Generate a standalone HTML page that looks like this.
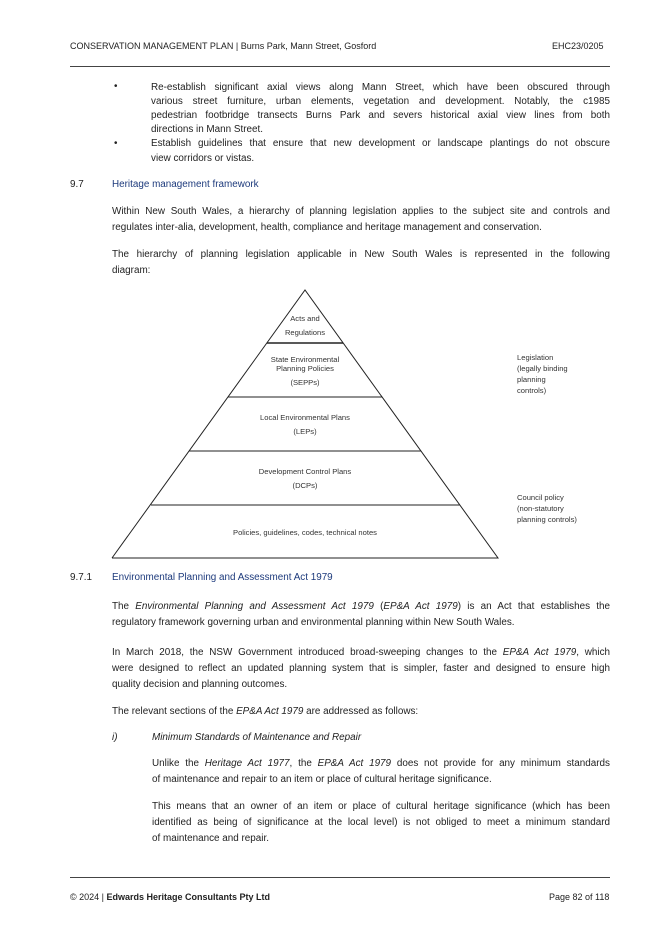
<!DOCTYPE html>
<html><head><meta charset="utf-8"><style>
body{margin:0;background:#fff;}
#p{position:relative;width:670px;height:947px;overflow:hidden;font-family:"Liberation Sans",sans-serif;color:#222;font-size:9.9px;}
.t{position:absolute;white-space:nowrap;line-height:12px;}
.j{position:absolute;line-height:12px;text-align:justify;text-align-last:justify;height:12px;overflow:hidden;}
.h{color:#1d3a7c;}
.hr{position:absolute;height:1px;background:#444;}
</style></head><body><div id="p">
<div class="t" style="left:70px;top:40px;font-size:9px">CONSERVATION MANAGEMENT PLAN | Burns Park, Mann Street, Gosford</div>
<div class="t" style="left:552px;top:40px;font-size:9px">EHC23/0205</div>
<div class="hr" style="left:70px;top:66px;width:540px"></div>

<div class="t" style="left:114px;top:81px">•</div>
<div class="j" style="left:151px;top:82px;width:459px">Re-establish significant axial views along Mann Street, which have been obscured through</div>
<div class="j" style="left:151px;top:96px;width:459px">various street furniture, urban elements, vegetation and development. Notably, the c1985</div>
<div class="j" style="left:151px;top:110px;width:459px">pedestrian footbridge transects Burns Park and severs historical axial view lines from both</div>
<div class="t" style="left:151px;top:124px">directions in Mann Street.</div>
<div class="t" style="left:114px;top:138px">•</div>
<div class="j" style="left:151px;top:138px;width:459px">Establish guidelines that ensure that new development or landscape plantings do not obscure</div>
<div class="t" style="left:151px;top:153px">view corridors or vistas.</div>

<div class="t" style="left:70px;top:179px">9.7</div>
<div class="t h" style="left:112px;top:179px">Heritage management framework</div>

<div class="j" style="left:112px;top:206px;width:498px">Within New South Wales, a hierarchy of planning legislation applies to the subject site and controls and</div>
<div class="t" style="left:112px;top:222px">regulates inter-alia, development, health, compliance and heritage management and conservation.</div>
<div class="j" style="left:112px;top:249px;width:498px">The hierarchy of planning legislation applicable in New South Wales is represented in the following</div>
<div class="t" style="left:112px;top:265px">diagram:</div>

<svg style="position:absolute;left:0;top:0" width="670" height="947">
<g stroke="#222" fill="none" stroke-width="1">
<polyline points="112,558 305,290 498,558 112,558"/>
<line x1="267" y1="343" x2="343" y2="343" stroke-width="1.5"/>
<line x1="228" y1="397" x2="382" y2="397"/>
<line x1="189" y1="451" x2="421" y2="451"/>
<line x1="151" y1="505" x2="460" y2="505"/>
</g>
<g font-family="Liberation Sans,sans-serif" font-size="7.6" fill="#333" text-anchor="middle">
<text x="305" y="321">Acts and</text>
<text x="305" y="335">Regulations</text>
<text x="305" y="362">State Environmental</text>
<text x="305" y="371">Planning Policies</text>
<text x="305" y="385">(SEPPs)</text>
<text x="305" y="420">Local Environmental Plans</text>
<text x="305" y="434">(LEPs)</text>
<text x="305" y="474">Development Control Plans</text>
<text x="305" y="488">(DCPs)</text>
<text x="305" y="535">Policies, guidelines, codes, technical notes</text>
</g>
<g font-family="Liberation Sans,sans-serif" font-size="7.6" fill="#333">
<text x="517" y="360">Legislation</text>
<text x="517" y="371">(legally binding</text>
<text x="517" y="382">planning</text>
<text x="517" y="393">controls)</text>
<text x="517" y="500">Council policy</text>
<text x="517" y="511">(non-statutory</text>
<text x="517" y="522">planning controls)</text>
</g>
</svg>

<div class="t" style="left:70px;top:572px">9.7.1</div>
<div class="t h" style="left:112px;top:572px">Environmental Planning and Assessment Act 1979</div>

<div class="j" style="left:112px;top:601px;width:498px">The <i>Environmental Planning and Assessment Act 1979</i> (<i>EP&amp;A Act 1979</i>) is an Act that establishes the</div>
<div class="t" style="left:112px;top:617px">regulatory framework governing urban and environmental planning within New South Wales.</div>
<div class="j" style="left:112px;top:647px;width:498px">In March 2018, the NSW Government introduced broad-sweeping changes to the <i>EP&amp;A Act 1979</i>, which</div>
<div class="j" style="left:112px;top:663px;width:498px">were designed to reflect an updated planning system that is simpler, faster and designed to ensure high</div>
<div class="t" style="left:112px;top:679px">quality decision and planning outcomes.</div>
<div class="t" style="left:112px;top:706px">The relevant sections of the <i>EP&amp;A Act 1979</i> are addressed as follows:</div>

<div class="t" style="left:112px;top:732px"><i>i)</i></div>
<div class="t" style="left:152px;top:732px"><i>Minimum Standards of Maintenance and Repair</i></div>
<div class="j" style="left:152px;top:758px;width:458px">Unlike the <i>Heritage Act 1977</i>, the <i>EP&amp;A Act 1979</i> does not provide for any minimum standards</div>
<div class="t" style="left:152px;top:774px">of maintenance and repair to an item or place of cultural heritage significance.</div>
<div class="j" style="left:152px;top:801px;width:458px">This means that an owner of an item or place of cultural heritage significance (which has been</div>
<div class="j" style="left:152px;top:817px;width:458px">identified as being of significance at the local level) is not obliged to meet a minimum standard</div>
<div class="t" style="left:152px;top:833px">of maintenance and repair.</div>

<div class="hr" style="left:70px;top:877px;width:540px"></div>
<div class="t" style="left:70px;top:891px;font-size:9px">© 2024 | <b>Edwards Heritage Consultants Pty Ltd</b></div>
<div class="t" style="left:549px;top:891px;font-size:9px">Page 82 of 118</div>
</div></body></html>
